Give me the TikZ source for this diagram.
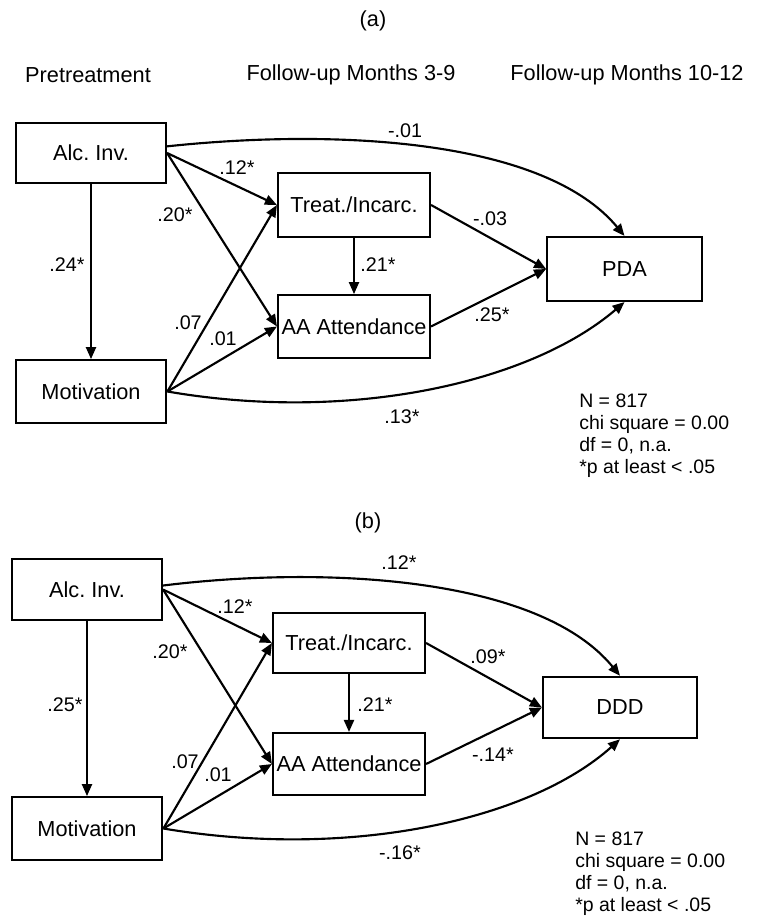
\documentclass[tikz,border=0pt]{standalone}
\usepackage{fontspec}
\setmainfont{Liberation Sans}
\usetikzlibrary{arrows.meta}
\frenchspacing
\begin{document}
\begin{tikzpicture}[x=0.75pt,y=-0.75pt,
  box/.style={draw, line width=1.6pt, inner sep=0pt, font=\fontsize{16.3}{18}\selectfont,
              minimum width=114pt, minimum height=47pt},
  lab/.style={font=\fontsize{14.8}{16}\selectfont, inner sep=0pt},
  hdr/.style={font=\fontsize{16.3}{18}\selectfont, inner sep=0pt},
  stat/.style={font=\fontsize{14.6}{16.5}\selectfont, align=left, anchor=west, inner sep=0pt},
  arr/.style={line width=1.6pt, -{Triangle[length=9pt,width=7.5pt]}},
]
\useasboundingbox (0,0) rectangle (760,917);
\fill[white] (0,0) rectangle (760,917);

% ---------------- panel (a) ----------------
\node[hdr] (a-title) at (373,21) {(a)};
\node[hdr] (h1) at (88,75) {Pretreatment};
\node[hdr] (h2) at (351,75) {Follow-up Months 3-9};
\node[hdr] (h3) at (627,75) {Follow-up Months 10-12};

\node[box, minimum width=112.5pt, minimum height=45pt] (a-alc) at (91,153) {Alc. Inv.};
\node[box, minimum width=113pt] (a-mot) at (91,391.5) {Motivation};
\node[box, minimum height=48pt] (a-treat) at (354,205) {Treat./Incarc.};
\node[box] (a-aa) at (354,326.5) {AA Attendance};
\node[box, minimum width=116pt, minimum height=48pt] (a-pda) at (624.5,269) {PDA};

\draw[arr] (a-alc.south) -- (a-mot.north);
\draw[arr] (a-alc.east) -- (a-treat.west);
\draw[arr] (a-alc.east) -- (a-aa.west);
\draw[arr] (a-mot.east) -- (a-treat.west);
\draw[arr] (a-mot.east) -- (a-aa.west);
\draw[arr] (a-treat.south) -- (a-aa.north);
\draw[arr] (a-treat.east) -- (a-pda.west);
\draw[arr] (a-aa.east) -- (a-pda.west);
\draw[arr] (a-alc.5) .. controls (340,128) and (545,140) .. (a-pda.north);
\draw[arr] (a-mot.east) .. controls (350,423) and (530,383) .. (a-pda.south);

\node[lab] (a-l1) at (405,131) {-.01};
\node[lab] (a-l2) at (237,168) {.12*};
\node[lab] (a-l3) at (175,215) {.20*};
\node[lab] (a-l4) at (67,265) {.24*};
\node[lab] (a-l5) at (188,323) {.07};
\node[lab] (a-l6) at (223,339) {.01};
\node[lab] (a-l7) at (378,265) {.21*};
\node[lab] (a-l8) at (490,219) {-.03};
\node[lab] (a-l9) at (492,315) {.25*};
\node[lab] (a-l10) at (402,417) {.13*};

\node[stat] (a-stats) at (579,436) {N = 817\\chi square = 0.00\\df = 0, n.a.\\*p at least < .05};

% ---------------- panel (b) ----------------
\node[hdr] (b-title) at (368,523) {(b)};

\node[box, minimum width=112.5pt, minimum height=45.5pt] (b-alc) at (87,589.5) {Alc. Inv.};
\node[box, minimum width=113pt] (b-mot) at (87,828.5) {Motivation};
\node[box, minimum height=45pt] (b-treat) at (349,643) {Treat./Incarc.};
\node[box, minimum height=46.5pt] (b-aa) at (349,764) {AA Attendance};
\node[box, minimum width=115.5pt, minimum height=46pt] (b-ddd) at (620,707.5) {DDD};

\draw[arr] (b-alc.south) -- (b-mot.north);
\draw[arr] (b-alc.east) -- (b-treat.west);
\draw[arr] (b-alc.east) -- (b-aa.west);
\draw[arr] (b-mot.east) -- (b-treat.west);
\draw[arr] (b-mot.east) -- (b-aa.west);
\draw[arr] (b-treat.south) -- (b-aa.north);
\draw[arr] (b-treat.east) -- (b-ddd.west);
\draw[arr] (b-aa.east) -- (b-ddd.west);
\draw[arr] (b-alc.3) .. controls (330,565) and (540,578) .. (b-ddd.north);
\draw[arr] (b-mot.east) .. controls (350,860) and (530,820) .. (b-ddd.south);

\node[lab] (b-l1) at (399,563) {.12*};
\node[lab] (b-l2) at (235,607) {.12*};
\node[lab] (b-l3) at (170,652) {.20*};
\node[lab] (b-l4) at (65,705) {.25*};
\node[lab] (b-l5) at (185,762) {.07};
\node[lab] (b-l6) at (218,775) {.01};
\node[lab] (b-l7) at (375,705) {.21*};
\node[lab] (b-l8) at (488,657) {.09*};
\node[lab] (b-l9) at (493,755) {-.14*};
\node[lab] (b-l10) at (400,853) {-.16*};

\node[stat] (b-stats) at (575,874) {N = 817\\chi square = 0.00\\df = 0, n.a.\\*p at least < .05};
\end{tikzpicture}
\end{document}
